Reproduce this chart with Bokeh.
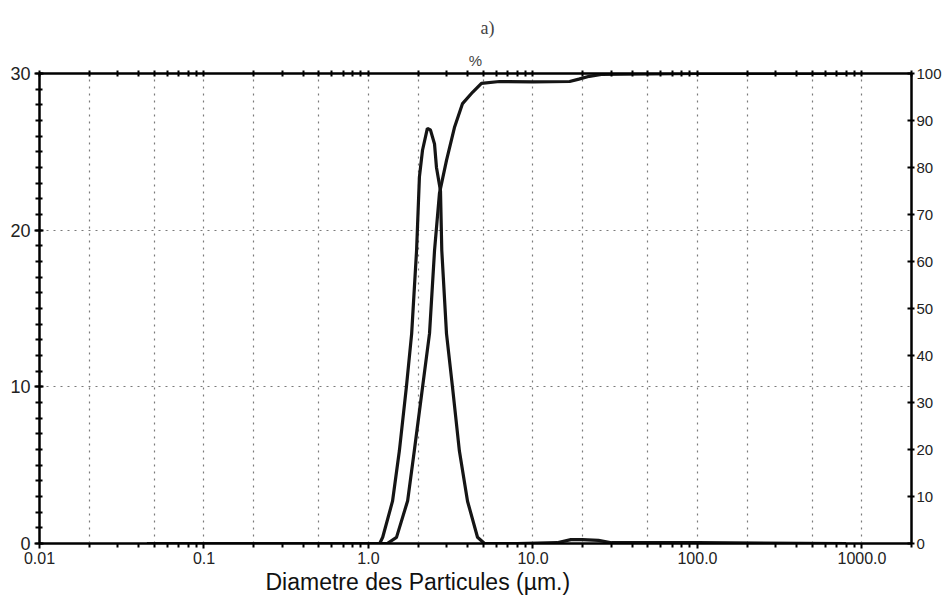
from bokeh.plotting import figure
from bokeh.models import Range1d, LinearAxis, LogAxis, FixedTicker, Title
from bokeh.embed import file_html
from bokeh.resources import INLINE

# ---- data ----
diam_freq = [0.045, 0.1, 0.5, 1.0, 1.17, 1.22, 1.40, 1.54, 1.70, 1.83, 1.96, 2.04, 2.13,
             2.28, 2.38, 2.52, 2.59, 2.74, 2.79, 2.98, 3.24, 3.57, 4.00, 4.60, 5.07,
             8.0, 14.0, 17.0, 20.0, 25.0, 30.0, 100.0, 800.0]
freq = [0, 0, 0, 0, 0, 0.4, 2.7, 5.9, 10.0, 13.4, 18.7, 23.4, 25.1,
        26.5, 26.4, 25.5, 24.0, 22.5, 18.7, 13.4, 10.0, 5.9, 2.7, 0.4, 0,
        0, 0.05, 0.25, 0.25, 0.2, 0.05, 0.05, 0]

diam_cum = [0.045, 0.5, 1.0, 1.30, 1.48, 1.73, 1.90, 2.13, 2.35, 2.52, 2.70, 2.98,
            3.33, 3.73, 4.29, 4.86, 6.26, 10.0, 16.7, 19.0, 22.0, 26.0, 100.0, 800.0]
cum = [0, 0, 0, 0, 1.3, 9.1, 19.8, 33.2, 44.7, 62.3, 74.5, 81.5,
       88.5, 93.6, 96.0, 97.9, 98.3, 98.2, 98.3, 98.8, 99.4, 99.8, 100, 100]

x_major = [0.01, 0.1, 1.0, 10.0, 100.0, 1000.0]
x_labels = ["0.01", "0.1", "1.0", "10.0", "100.0", "1000.0"]
x_grid = [0.02, 0.05, 0.1, 0.2, 0.5, 1, 2, 5, 10, 20, 50, 100, 200, 500, 1000]
y_left_ticks = [0, 10, 20, 30]
y_right_ticks = [0, 10, 20, 30, 40, 50, 60, 70, 80, 90, 100]

x_minor = [m * d for d in [0.01, 0.1, 1, 10, 100, 1000] for m in range(2, 10) if m * d <= 2000]

TICK_FONT = "Liberation Sans"

p = figure(x_axis_type="log", x_range=Range1d(0.01, 2000), y_range=Range1d(0, 30),
           frame_width=872, frame_height=470, output_backend="svg", toolbar_location=None,
           min_border_left=39, min_border_right=4, min_border_top=73, min_border_bottom=52,
           background_fill_color="white", border_fill_color="white")

p.outline_line_color = "black"
p.outline_line_width = 2
p.outline_line_alpha = 1

# bottom axis
xa = p.xaxis[0]
xa.ticker = FixedTicker(ticks=x_major, minor_ticks=x_minor)
xa.major_label_overrides = {v: s for v, s in zip(x_major, x_labels)}
xa.major_label_text_font = TICK_FONT
xa.major_label_text_font_size = "16px"
xa.major_label_text_color = "#222"
xa.major_label_standoff = 3
xa.axis_line_width = 2
xa.axis_line_color = "black"
xa.major_tick_out = 5
xa.major_tick_in = 0
xa.minor_tick_out = 4
xa.minor_tick_in = 0
xa.major_tick_line_width = 2
xa.minor_tick_line_width = 2

# left axis
ya = p.yaxis[0]
ya.ticker = FixedTicker(ticks=y_left_ticks, minor_ticks=list(range(0, 31)))
ya.major_label_text_font = TICK_FONT
ya.major_label_text_font_size = "18px"
ya.major_label_text_color = "#222"
ya.major_label_standoff = 4
ya.axis_line_width = 2
ya.major_tick_out = 5
ya.major_tick_in = 4
ya.minor_tick_out = 4
ya.minor_tick_in = 3
ya.major_tick_line_width = 2
ya.minor_tick_line_width = 2

# grids
p.xgrid[0].ticker = FixedTicker(ticks=x_grid)
p.ygrid[0].ticker = FixedTicker(ticks=[10, 20])
for g in (p.xgrid[0], p.ygrid[0]):
    g.grid_line_color = "#7a7a7a"
    g.grid_line_dash = "2 5"
    g.grid_line_width = 1.2

# top axis (ticks only + "%")
top = LogAxis(ticker=FixedTicker(ticks=[], minor_ticks=x_minor + x_major))
top.axis_label = "%"
top.axis_label_text_font = "Liberation Sans"
top.axis_label_text_font_style = "normal"
top.axis_label_text_font_size = "15px"
top.axis_label_standoff = 2
top.axis_line_width = 2
top.minor_tick_in = 3
top.minor_tick_out = 3
top.minor_tick_line_width = 2
p.add_layout(top, "above")

p.add_layout(Title(text="a)", align="left", offset=441, text_font="Liberation Serif",
                   text_font_style="normal", text_font_size="18px", standoff=22), "above")
p.add_layout(Title(text="Diametre des Particules (µm.)", align="left", offset=226,
                   text_font="Liberation Sans", text_font_style="normal",
                   text_font_size="23px", text_color="#111", standoff=0), "below")

# right axis (percent)
p.extra_y_ranges = {"pct": Range1d(0, 100)}
ra = LinearAxis(y_range_name="pct", ticker=FixedTicker(ticks=y_right_ticks, minor_ticks=[]))
ra.major_label_text_font = TICK_FONT
ra.major_label_text_font_size = "15px"
ra.major_label_text_color = "#222"
ra.major_label_standoff = 2
ra.axis_line_width = 2
ra.major_tick_out = 3
ra.major_tick_in = 4
ra.major_tick_line_width = 2
p.add_layout(ra, "right")

# curves
p.line(diam_freq, freq, line_color="#151515", line_width=3.2)
p.line(diam_cum, cum, y_range_name="pct", line_color="#151515", line_width=3.2)

open("out.html", "w").write(file_html(p, INLINE))
